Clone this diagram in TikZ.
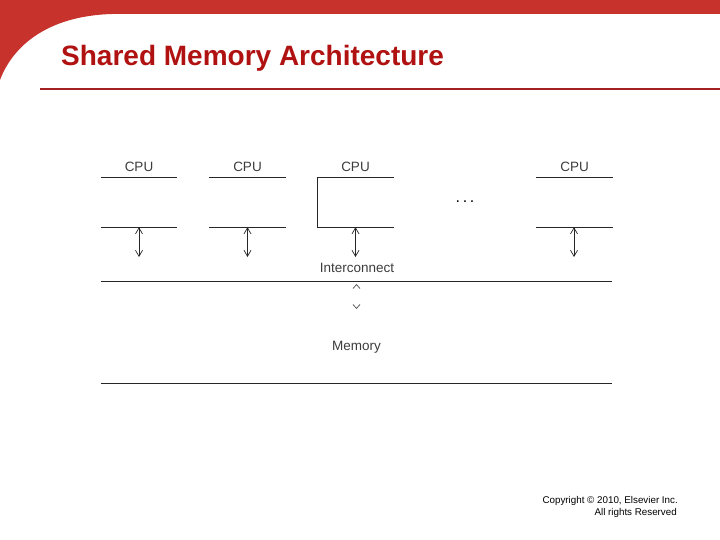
\documentclass[tikz,border=0pt]{standalone}
\usepackage{fontspec}
\setmainfont{Liberation Sans}
\usepackage{xcolor}
\usetikzlibrary{arrows.meta, positioning}

\definecolor{bandred}{RGB}{200,50,45}
\definecolor{titlered}{RGB}{176,18,18}
\definecolor{rulered}{RGB}{165,32,32}
\definecolor{inkgray}{RGB}{60,60,60}

\begin{document}
\begin{tikzpicture}[
  x=1pt, y=-1pt,
  heading/.style={font=\bfseries\fontsize{28}{31}\selectfont, text=titlered, inner sep=0pt},
  lbl/.style={font=\fontsize{13.5}{15}\selectfont, text=inkgray, inner sep=0pt},
  cpubox/.style={minimum width=76pt, minimum height=49pt, inner sep=0pt},
  wire/.style={line width=0.9pt, draw=black!85},
  dblarr/.style={{Straight Barb[length=6pt,width=7pt]}-{Straight Barb[length=6pt,width=7pt]}, line width=0.7pt, draw=black!85},
  tipsonly/.style={{Straight Barb[length=4pt,width=7pt,color=black!70]}-{Straight Barb[length=4pt,width=7pt,color=black!70]}, line width=0.7pt, draw=white},
  note/.style={font=\fontsize{9.8}{11}\selectfont, inner sep=0pt}
]
  \useasboundingbox (0,0) rectangle (720,540);

  % slide frame
  \fill[bandred] (0,0) -- (720,0) -- (720,14) -- (112,14)
     .. controls (45,16) and (12,48) .. (0,80) -- cycle;
  \node[heading, anchor=west] (title) at (61,58) {Shared Memory Architecture};
  \draw[rulered, line width=2pt] (40,89) -- (720,89);

  % processors
  \node[cpubox] (cpu1) at (139,202.5) {};
  \node[cpubox] (cpu2) at (247.5,202.5) {};
  \node[cpubox] (cpu3) at (355.5,202.5) {};
  \node[cpubox] (cpu4) at (574.5,202.5) {};
  \foreach \i in {1,2,3,4} {
    \node[lbl, above=6pt of cpu\i.north] (name\i) {CPU};
    \draw[wire] (cpu\i.north west) -- (cpu\i.north east);
    \draw[wire] (cpu\i.south west) -- (cpu\i.south east);
  }
  \draw[wire] (cpu3.north west) -- (cpu3.south west);
  \node[font=\fontsize{16}{18}\selectfont] (dots) at (465,202) {.\,.\,.};

  % interconnect and memory
  \node[lbl] (icon) at (357,268) {Interconnect};
  \draw[wire] (101,281) -- (612,281);
  \node[lbl] (mem) at (356.5,347) {Memory};
  \draw[wire] (101,383) -- (612,383);

  \coordinate (end1) at (139,257);
  \coordinate (end2) at (247.5,257);
  \coordinate (end3) at (355.5,257);
  \coordinate (end4) at (574,257);
  \foreach \i in {1,...,4}
    \draw[dblarr] (cpu\i.south -| end\i) -- (end\i);

  \coordinate (bustop) at (356.5,284);
  \coordinate (membot) at (356.5,309);
  \draw[tipsonly] (bustop) -- (membot);

  % footer
  \node[note, anchor=north east] (copy) at (678,496) {Copyright \textcopyright\ 2010, Elsevier Inc.};
  \node[note, anchor=north east] (rights) at (677,508) {All rights Reserved};
\end{tikzpicture}
\end{document}
